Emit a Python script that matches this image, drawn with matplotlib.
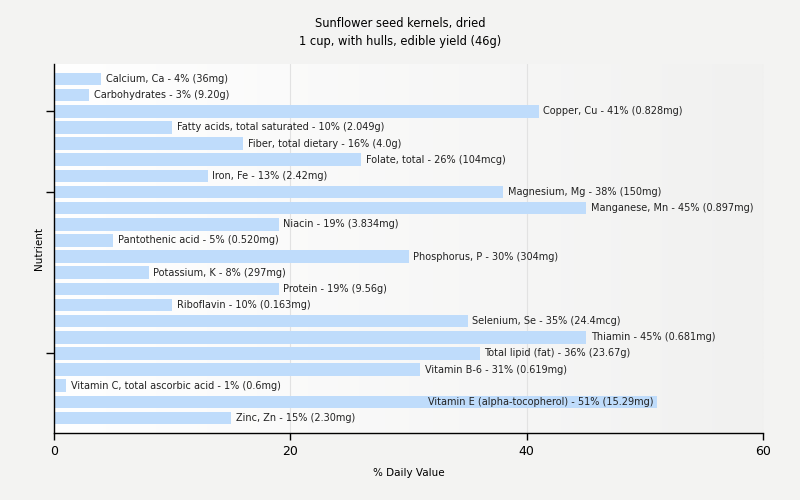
import matplotlib.pyplot as plt
import numpy as np

nutrients = ["Calcium, Ca", "Carbohydrates", "Copper, Cu", "Fatty acids, total saturated",
             "Fiber, total dietary", "Folate, total", "Iron, Fe", "Magnesium, Mg",
             "Manganese, Mn", "Niacin", "Pantothenic acid", "Phosphorus, P", "Potassium, K",
             "Protein", "Riboflavin", "Selenium, Se", "Thiamin", "Total lipid (fat)",
             "Vitamin B-6", "Vitamin C, total ascorbic acid", "Vitamin E (alpha-tocopherol)",
             "Zinc, Zn"]
values = [4, 3, 41, 10, 16, 26, 13, 38, 45, 19, 5, 30, 8, 19, 10, 35, 45, 36, 31, 1, 51, 15]
amounts = ["36mg", "9.20g", "0.828mg", "2.049g", "4.0g", "104mcg", "2.42mg", "150mg",
           "0.897mg", "3.834mg", "0.520mg", "304mg", "297mg", "9.56g", "0.163mg", "24.4mcg",
           "0.681mg", "23.67g", "0.619mg", "0.6mg", "15.29mg", "2.30mg"]
tick_rows = [2, 7, 17]

fig = plt.figure(figsize=(8, 5), dpi=100)
fig.patch.set_facecolor('#f3f3f2')
ax = fig.add_axes([0.0675, 0.134, 0.8865, 0.738])

# gradient background for the plot area
grad = np.linspace(0, 1, 256).reshape(1, -1)
ax.imshow(grad, cmap=plt.matplotlib.colors.LinearSegmentedColormap.from_list('g', ['#ffffff', '#f1f1f0']),
          extent=[0, 60, 21.93, -0.93], aspect='auto', zorder=0)

y = np.arange(len(nutrients))
ax.barh(y, values, height=0.78, color='#bfdcfb', zorder=2)
for i, (n, v, a) in enumerate(zip(nutrients, values, amounts)):
    txt = f"{n} - {v}% ({a})"
    if v > 48:
        ax.text(v - 0.3, i, txt, va='center', ha='right', fontsize=7, color='#222222', zorder=3)
    else:
        ax.text(v + 0.4, i, txt, va='center', ha='left', fontsize=7, color='#222222', zorder=3)

ax.set_xlim(0, 60)
ax.set_ylim(21.93, -0.93)
ax.set_xticks([0, 20, 40, 60])
ax.set_yticks(tick_rows)
ax.set_yticklabels([])
ax.tick_params(axis='y', length=6, direction='out', width=1)
ax.tick_params(axis='x', length=5, direction='out', width=1, labelsize=9)
for x in [20, 40, 60]:
    ax.axvline(x, color='#e2e2e2', lw=0.8, zorder=1)
for s in ['top', 'right']:
    ax.spines[s].set_visible(False)
for s in ['left', 'bottom']:
    ax.spines[s].set_linewidth(1)
    ax.spines[s].set_color('black')

ax.set_xlabel("% Daily Value", fontsize=7.5, labelpad=7)
ax.set_ylabel("Nutrient", fontsize=7.5, labelpad=-2)
fig.suptitle("Sunflower seed kernels, dried\n1 cup, with hulls, edible yield (46g)",
             fontsize=8.3, y=0.967, linespacing=1.6)

fig.savefig("out.png", dpi=100, facecolor=fig.get_facecolor())
